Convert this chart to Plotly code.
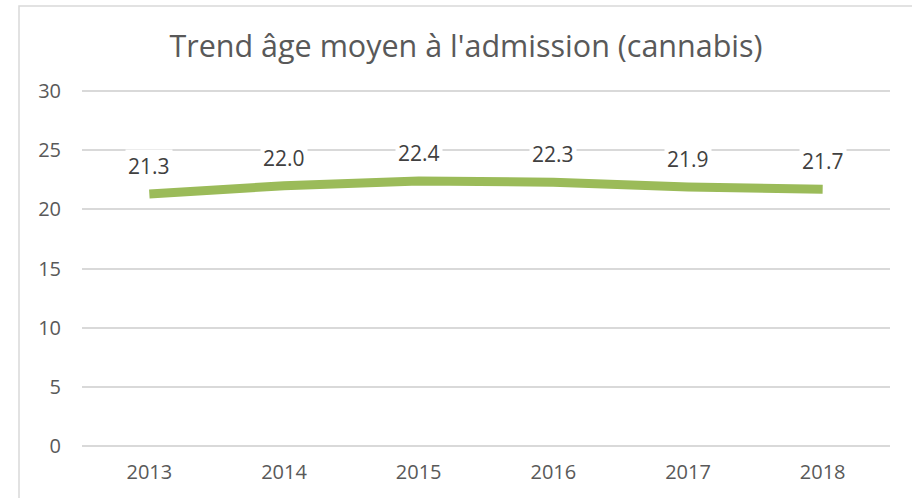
import plotly.graph_objects as go

years = ["2013", "2014", "2015", "2016", "2017", "2018"]
ages = [21.3, 22.0, 22.4, 22.3, 21.9, 21.7]
y_ticks = [0, 5, 10, 15, 20, 25, 30]
title = "Trend âge moyen à l'admission (cannabis)"

FONT = "Open Sans"
GREY = "#595959"
GRID = "#d9d9d9"
GREEN = "#9BBB59"

W, H = 912, 498
ML, MR, MT, MB = 82, 22, 90, 51
pw, ph = W - ML - MR, H - MT - MB

fig = go.Figure()
fig.add_trace(go.Scatter(
    x=list(range(len(years))), y=ages, mode="lines",
    line=dict(color=GREEN, width=9, shape="linear"),
    hoverinfo="skip", showlegend=False,
))

for i, v in enumerate(ages):
    fig.add_annotation(
        x=i, y=v, text=f"{v:.1f}", showarrow=False, yshift=28,
        font=dict(family=FONT, size=21, color="#404040"),
        bgcolor="white", borderpad=2,
    )

# outer chart border (light grey): left and top edges visible
fig.add_shape(type="rect", xref="paper", yref="paper",
              x0=(19 - ML) / pw, x1=(W + 40 - ML) / pw,
              y0=-(H + 40 - MT - ph) / ph, y1=(MT - 6) / ph + 1,
              line=dict(color=GRID, width=1.5), fillcolor="rgba(0,0,0,0)", layer="below")

fig.update_layout(
    width=W, height=H,
    margin=dict(l=ML, r=MR, t=MT, b=MB, autoexpand=False),
    paper_bgcolor="white", plot_bgcolor="white",
    title=dict(text=title, x=466 / W, xanchor="center",
               y=1 - 46 / H, yanchor="middle",
               font=dict(family=FONT, size=30.5, color=GREY)),
    xaxis=dict(range=[-0.5, len(years) - 0.5], tickvals=list(range(len(years))),
               ticktext=years, showgrid=False, zeroline=False, showline=False,
               ticks="", tickfont=dict(family=FONT, size=20, color=GREY),
               ticklabelstandoff=11, automargin=False),
    yaxis=dict(range=[-0.1, 30.1], tickvals=y_ticks, showgrid=True, gridcolor=GRID,
               gridwidth=1.5, zeroline=False, showline=False, ticks="",
               tickfont=dict(family=FONT, size=20, color=GREY),
               ticklabelstandoff=20, automargin=False),
)

fig.write_html("out.html", config={"displayModeBar": False},
               post_script="document.body.style.margin='0';document.body.style.overflow='hidden';")
